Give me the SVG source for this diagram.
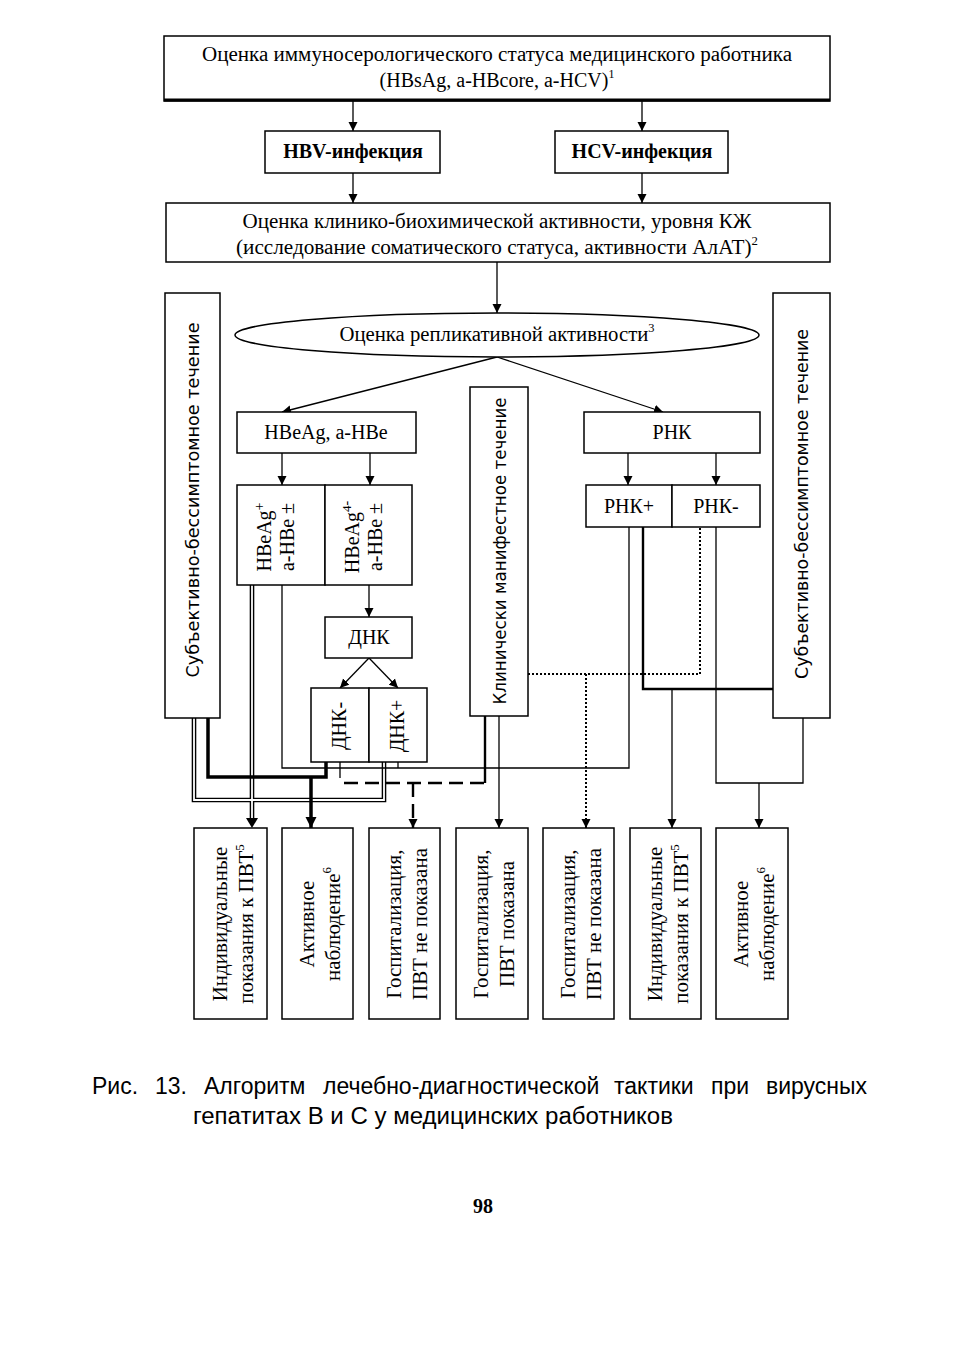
<svg xmlns="http://www.w3.org/2000/svg" width="962" height="1345" viewBox="0 0 962 1345">
<style>
.b{fill:#fff;stroke:#000;stroke-width:1.5}
.t{font-family:"Liberation Serif","Times New Roman",serif;font-size:20px;fill:#000}
.v{font-family:"Liberation Serif","Times New Roman",serif;font-size:21px;fill:#000}
.s{font-family:"DejaVu Sans","Noto Sans",sans-serif;font-size:17px;fill:#000}
.c{font-family:"Liberation Sans",Arial,sans-serif;font-size:23px;fill:#000}
.th{fill:none;stroke:#000;stroke-width:1.3}
.tk{fill:none;stroke:#000;stroke-width:3.5}
.md{fill:none;stroke:#000;stroke-width:2.4}
.da{fill:none;stroke:#000;stroke-width:2.4;stroke-dasharray:14 7}
.dt{fill:none;stroke:#000;stroke-width:2;stroke-dasharray:2 2}
.dbk{fill:none;stroke:#000;stroke-width:4.6}
.dbw{fill:none;stroke:#fff;stroke-width:1.8}
</style>
<defs>
<marker id="ah" viewBox="0 0 10 10" refX="10" refY="5" markerWidth="9" markerHeight="10" markerUnits="userSpaceOnUse" orient="auto">
<path d="M0,0 L10,5 L0,10 z" fill="#000"/>
</marker>
<marker id="ahb" viewBox="0 0 10 10" refX="10" refY="5" markerWidth="11" markerHeight="12" markerUnits="userSpaceOnUse" orient="auto">
<path d="M0,0 L10,5 L0,10 z" fill="#000"/>
</marker>
</defs>

<g id="connectors">
<path class="th" d="M353,101 V131" marker-end="url(#ah)"/>
<path class="th" d="M642,101 V131" marker-end="url(#ah)"/>
<path class="th" d="M353,173 V203" marker-end="url(#ah)"/>
<path class="th" d="M642,173 V203" marker-end="url(#ah)"/>
<path class="th" d="M497,262 V313" marker-end="url(#ah)"/>
<path class="th" d="M497,357 L282,412" marker-end="url(#ah)"/>
<path class="th" d="M497,357 L663,412" marker-end="url(#ah)"/>
<path class="th" d="M282,453 V485" marker-end="url(#ah)"/>
<path class="th" d="M370,453 V485" marker-end="url(#ah)"/>
<path class="th" d="M628,453 V485" marker-end="url(#ah)"/>
<path class="th" d="M716,453 V485" marker-end="url(#ah)"/>
<path class="th" d="M369,585 V617" marker-end="url(#ah)"/>
<path class="th" d="M369,658 L340,688" marker-end="url(#ah)"/>
<path class="th" d="M369,658 L398,688" marker-end="url(#ah)"/>
<path class="dbk" d="M194,718 V800 H384 V762"/>
<path class="dbk" d="M252,585 V820"/>
<path class="dbw" d="M194,718 V800 H384 V762"/>
<path class="dbw" d="M252,585 V819"/>
<polygon points="246,818 258,818 252,828" fill="#000"/>
<path class="tk" d="M208,718 V777 H326 V762"/>
<path class="tk" d="M311,777 V828" marker-end="url(#ahb)"/>
<path class="th" d="M282,585 V768 H629 V527"/>
<path class="th" d="M398,762 V768"/>
<path class="th" d="M499,716 V828" marker-end="url(#ah)"/>
<path class="th" d="M340,762 V778"/>
<path class="md" d="M485,716 V783"/>
<path class="da" d="M484,783 H340"/>
<path class="da" d="M413,783 V828" marker-end="url(#ah)"/>
<path class="dt" d="M528,674 H700 V527"/>
<path class="dt" d="M586,674 V828" marker-end="url(#ah)"/>
<path class="md" d="M643,527 V689 H773"/>
<path class="th" d="M672,689 V828" marker-end="url(#ah)"/>
<path class="th" d="M716,527 V783 H803 V718"/>
<path class="th" d="M759,783 V828" marker-end="url(#ah)"/>
</g>

<g id="n-immuno">
<rect class="b" x="164" y="36" width="666" height="65"/>
<line x1="164" y1="100" x2="830" y2="100" stroke="#000" stroke-width="3"/>
<text class="t" x="497" y="61" text-anchor="middle" textLength="590" lengthAdjust="spacingAndGlyphs">Оценка иммуносерологического статуса медицинского работника</text>
<text class="t" x="497" y="87" text-anchor="middle">(HBsAg, a-HBcore, a-HCV)<tspan font-size="12" dy="-9">1</tspan></text>
</g>

<g id="n-hbv">
<rect class="b" x="265" y="131" width="175" height="42"/>
<text class="t" x="353" y="158" text-anchor="middle" font-weight="bold">HBV-инфекция</text>
</g>
<g id="n-hcv">
<rect class="b" x="555" y="131" width="173" height="42"/>
<text class="t" x="642" y="158" text-anchor="middle" font-weight="bold">HCV-инфекция</text>
</g>

<g id="n-clinic">
<rect class="b" x="166" y="203" width="664" height="59"/>
<text class="t" x="497" y="228" text-anchor="middle" textLength="509" lengthAdjust="spacingAndGlyphs">Оценка клинико-биохимической активности, уровня КЖ</text>
<text class="t" x="497" y="254" text-anchor="middle" textLength="522" lengthAdjust="spacingAndGlyphs">(исследование соматического статуса, активности АлАТ)<tspan font-size="12" dy="-9">2</tspan></text>
</g>

<g id="n-left-subj">
<rect class="b" x="165" y="293" width="55" height="425"/>
<text class="s" transform="translate(192,500) rotate(-90)" y="7" text-anchor="middle" textLength="355" lengthAdjust="spacingAndGlyphs">Субъективно-бессимптомное течение</text>
</g>
<g id="n-right-subj">
<rect class="b" x="773" y="293" width="57" height="425"/>
<text class="s" transform="translate(801,504) rotate(-90)" y="7" text-anchor="middle" textLength="350" lengthAdjust="spacingAndGlyphs">Субъективно-бессимптомное течение</text>
</g>
<g id="n-manifest">
<rect class="b" x="470" y="387" width="58" height="329"/>
<text class="s" transform="translate(499,551) rotate(-90)" y="7" text-anchor="middle" textLength="307" lengthAdjust="spacingAndGlyphs">Клинически манифестное течение</text>
</g>

<g id="n-replic">
<ellipse class="b" cx="497" cy="335" rx="262" ry="22"/>
<text class="t" x="497" y="341" text-anchor="middle" textLength="315" lengthAdjust="spacingAndGlyphs">Оценка репликативной активности<tspan font-size="12" dy="-9">3</tspan></text>
</g>

<g id="n-hbeag">
<rect class="b" x="237" y="412" width="179" height="41"/>
<text class="t" x="326" y="439" text-anchor="middle">HBeAg, a-HBe</text>
</g>
<g id="n-rnk">
<rect class="b" x="584" y="412" width="176" height="41"/>
<text class="t" x="672" y="439" text-anchor="middle">РНК</text>
</g>

<g id="n-hbeag-pos">
<rect class="b" x="237" y="485" width="88" height="100"/>
<text class="t" transform="translate(281,537) rotate(-90)" text-anchor="middle"><tspan x="0" y="-10">HBeAg<tspan font-size="14" dy="-7">+</tspan></tspan><tspan x="0" y="13">a-HBe ±</tspan></text>
</g>
<g id="n-hbeag-neg">
<rect class="b" x="325" y="485" width="87" height="100"/>
<text class="t" transform="translate(369,537) rotate(-90)" text-anchor="middle"><tspan x="0" y="-10">HBeAg<tspan font-size="13" dy="-8">4</tspan><tspan font-size="14">-</tspan></tspan><tspan x="0" y="13">a-HBe ±</tspan></text>
</g>

<g id="n-dnk">
<rect class="b" x="325" y="617" width="87" height="41"/>
<text class="t" x="369" y="644" text-anchor="middle">ДНК</text>
</g>
<g id="n-dnk-neg">
<rect class="b" x="311" y="688" width="58" height="74"/>
<text class="t" transform="translate(340,726) rotate(-90)" y="6" text-anchor="middle">ДНК-</text>
</g>
<g id="n-dnk-pos">
<rect class="b" x="369" y="688" width="58" height="74"/>
<text class="t" transform="translate(398,726) rotate(-90)" y="6" text-anchor="middle">ДНК+</text>
</g>

<g id="n-rnk-pos">
<rect class="b" x="586" y="485" width="86" height="42"/>
<text class="t" x="629" y="513" text-anchor="middle">РНК+</text>
</g>
<g id="n-rnk-neg">
<rect class="b" x="672" y="485" width="88" height="42"/>
<text class="t" x="716" y="513" text-anchor="middle">РНК-</text>
</g>

<g id="n-out1">
<rect class="b" x="194" y="828" width="73" height="191"/>
<text class="v" transform="translate(230.5,924) rotate(-90)" text-anchor="middle"><tspan x="0" y="-4">Индивидуальные</tspan><tspan x="0" y="22">показания к ПВТ<tspan font-size="13" dy="-9">5</tspan></tspan></text>
</g>
<g id="n-out2">
<rect class="b" x="282" y="828" width="71" height="191"/>
<text class="v" transform="translate(317.5,924) rotate(-90)" text-anchor="middle"><tspan x="0" y="-4">Активное</tspan><tspan x="0" y="22">наблюдение<tspan font-size="13" dy="-9">6</tspan></tspan></text>
</g>
<g id="n-out3">
<rect class="b" x="369" y="828" width="71" height="191"/>
<text class="v" transform="translate(404.5,924) rotate(-90)" text-anchor="middle"><tspan x="0" y="-4">Госпитализация,</tspan><tspan x="0" y="22">ПВТ не показана</tspan></text>
</g>
<g id="n-out4">
<rect class="b" x="456" y="828" width="72" height="191"/>
<text class="v" transform="translate(492,924) rotate(-90)" text-anchor="middle"><tspan x="0" y="-4">Госпитализация,</tspan><tspan x="0" y="22">ПВТ показана</tspan></text>
</g>
<g id="n-out5">
<rect class="b" x="543" y="828" width="71" height="191"/>
<text class="v" transform="translate(578.5,924) rotate(-90)" text-anchor="middle"><tspan x="0" y="-4">Госпитализация,</tspan><tspan x="0" y="22">ПВТ не показана</tspan></text>
</g>
<g id="n-out6">
<rect class="b" x="630" y="828" width="71" height="191"/>
<text class="v" transform="translate(665.5,924) rotate(-90)" text-anchor="middle"><tspan x="0" y="-4">Индивидуальные</tspan><tspan x="0" y="22">показания к ПВТ<tspan font-size="13" dy="-9">5</tspan></tspan></text>
</g>
<g id="n-out7">
<rect class="b" x="716" y="828" width="72" height="191"/>
<text class="v" transform="translate(752,924) rotate(-90)" text-anchor="middle"><tspan x="0" y="-4">Активное</tspan><tspan x="0" y="22">наблюдение<tspan font-size="13" dy="-9">6</tspan></tspan></text>
</g>

<g id="caption">
<text class="c" y="1094"><tspan x="92">Рис.</tspan><tspan x="155">13.</tspan><tspan x="204">Алгоритм</tspan><tspan x="323">лечебно-диагностической</tspan><tspan x="614">тактики</tspan><tspan x="711">при</tspan><tspan x="766">вирусных</tspan></text>
<text class="c" x="193" y="1124" textLength="480" lengthAdjust="spacingAndGlyphs">гепатитах В и С у медицинских работников</text>
</g>
<g id="page">
<text class="t" x="483" y="1213" text-anchor="middle" font-size="15" font-weight="bold">98</text>
</g>
</svg>
